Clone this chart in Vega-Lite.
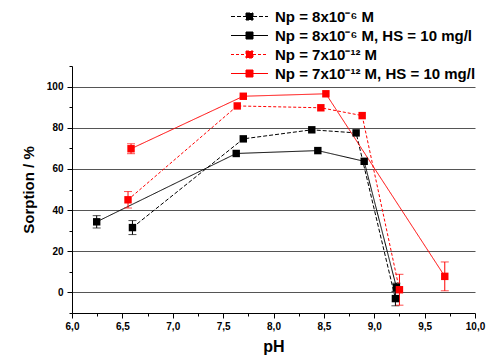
{
  "$schema": "https://vega.github.io/schema/vega-lite/v6.json",
  "width": 403,
  "height": 247,
  "autosize": {"type": "none"},
  "padding": {"left": 72, "top": 66, "right": 13, "bottom": 47},
  "background": "white",
  "config": {
    "view": {"stroke": null},
    "font": "Liberation Sans",
    "axis": {"labelFont": "Liberation Sans", "titleFont": "Liberation Sans", "labelFontWeight": "bold", "titleFontWeight": "bold", "labelColor": "#000", "titleColor": "#000", "domainColor": "#000", "tickColor": "#000", "domainWidth": 1, "tickWidth": 1}
  },
  "data": {
    "values": [
      {"series": "Np = 8x10⁻⁶ M", "pH": 6.60, "sorption": 31.5, "err": 3.4},
      {"series": "Np = 8x10⁻⁶ M", "pH": 7.70, "sorption": 74.6, "err": null},
      {"series": "Np = 8x10⁻⁶ M", "pH": 8.38, "sorption": 79.0, "err": null},
      {"series": "Np = 8x10⁻⁶ M", "pH": 8.82, "sorption": 77.5, "err": null},
      {"series": "Np = 8x10⁻⁶ M", "pH": 9.21, "sorption": -3.0, "err": 3.5},
      {"series": "Np = 8x10⁻⁶ M, HS = 10 mg/l", "pH": 6.245, "sorption": 34.3, "err": 3.0},
      {"series": "Np = 8x10⁻⁶ M, HS = 10 mg/l", "pH": 7.63, "sorption": 67.5, "err": null},
      {"series": "Np = 8x10⁻⁶ M, HS = 10 mg/l", "pH": 8.44, "sorption": 68.9, "err": null},
      {"series": "Np = 8x10⁻⁶ M, HS = 10 mg/l", "pH": 8.90, "sorption": 63.7, "err": null},
      {"series": "Np = 8x10⁻⁶ M, HS = 10 mg/l", "pH": 9.22, "sorption": 2.5, "err": 2.0},
      {"series": "Np = 7x10⁻¹² M", "pH": 6.556, "sorption": 45.0, "err": 4.0},
      {"series": "Np = 7x10⁻¹² M", "pH": 7.64, "sorption": 90.6, "err": null},
      {"series": "Np = 7x10⁻¹² M", "pH": 8.47, "sorption": 89.7, "err": null},
      {"series": "Np = 7x10⁻¹² M", "pH": 8.88, "sorption": 85.9, "err": null},
      {"series": "Np = 7x10⁻¹² M", "pH": 9.25, "sorption": 1.3, "err": 7.5},
      {"series": "Np = 7x10⁻¹² M, HS = 10 mg/l", "pH": 6.586, "sorption": 69.8, "err": 2.4},
      {"series": "Np = 7x10⁻¹² M, HS = 10 mg/l", "pH": 7.70, "sorption": 95.3, "err": null},
      {"series": "Np = 7x10⁻¹² M, HS = 10 mg/l", "pH": 8.52, "sorption": 96.5, "err": null},
      {"series": "Np = 7x10⁻¹² M, HS = 10 mg/l", "pH": 9.70, "sorption": 7.8, "err": 7.0}
    ]
  },
  "encoding": {
    "x": {
      "field": "pH", "type": "quantitative",
      "scale": {"domain": [6, 10], "nice": false, "zero": false},
      "axis": {
        "title": "pH", "titleFontSize": 16, "titlePadding": 7,
        "values": [6, 6.25, 6.5, 6.75, 7, 7.25, 7.5, 7.75, 8, 8.25, 8.5, 8.75, 9, 9.25, 9.5, 9.75, 10],
        "labelExpr": "(datum.value * 2) % 1 == 0 ? replace(format(datum.value, '.1f'), '.', ',') : ''",
        "tickSize": {"condition": {"test": "(datum.value * 2) % 1 == 0", "value": 5}, "value": 3},
        "labelFontSize": 10, "labelPadding": 3, "grid": false, "labelFlush": false
      }
    },
    "y": {
      "field": "sorption", "type": "quantitative",
      "scale": {"domain": [-10, 110], "nice": false, "zero": false},
      "axis": {
        "title": "Sorption / %", "titleFontSize": 15, "titlePadding": 10,
        "values": [-10, 0, 10, 20, 30, 40, 50, 60, 70, 80, 90, 100, 110],
        "labelExpr": "(datum.value % 20 == 0 && datum.value >= 0 && datum.value <= 100) ? format(datum.value, 'd') : ''",
        "tickSize": {"condition": {"test": "datum.value % 20 == 0 && datum.value >= 0 && datum.value <= 100", "value": 5}, "value": 3},
        "grid": true,
        "gridColor": "#555",
        "gridWidth": 1,
        "gridOpacity": {"condition": {"test": "datum.value % 20 == 0 && datum.value >= 0 && datum.value <= 100", "value": 1}, "value": 0},
        "labelFontSize": 10, "labelPadding": 4, "labelFlush": false
      }
    }
  },
  "layer": [
    {
      "mark": {"type": "line", "strokeWidth": 1},
      "encoding": {
        "color": {
          "field": "series", "type": "nominal",
          "scale": {"domain": ["Np = 8x10⁻⁶ M", "Np = 8x10⁻⁶ M, HS = 10 mg/l", "Np = 7x10⁻¹² M", "Np = 7x10⁻¹² M, HS = 10 mg/l"], "range": ["#000000", "#000000", "#ff0000", "#ff0000"]},
          "legend": {
            "title": null, "orient": "none", "legendX": 170, "legendY": -57, "padding": 0,
            "symbolType": "M-3.7,0L-0.7,0M0.7,0L3.7,0M-0.7,-0.7L0.7,-0.7L0.7,0.7L-0.7,0.7Z",
            "symbolSize": 100, "symbolStrokeWidth": 1,
            "labelFont": "Liberation Sans", "labelFontWeight": "bold", "labelFontSize": 15, "labelColor": "#000",
            "labelOffset": 18, "rowPadding": 3, "labelLimit": 0,
            "encode": {"symbols": {"update": {"fill": {"scale": "color", "field": "value"}, "fillOpacity": {"value": 1}}}}
          }
        },
        "strokeDash": {
          "field": "series", "type": "nominal",
          "scale": {"domain": ["Np = 8x10⁻⁶ M", "Np = 8x10⁻⁶ M, HS = 10 mg/l", "Np = 7x10⁻¹² M", "Np = 7x10⁻¹² M, HS = 10 mg/l"], "range": [[4, 2], [1, 0], [3, 2], [1, 0]]},
          "legend": {
            "title": null, "orient": "none", "legendX": 170, "legendY": -57, "padding": 0,
            "symbolType": "M-3.7,0L-0.7,0M0.7,0L3.7,0M-0.7,-0.7L0.7,-0.7L0.7,0.7L-0.7,0.7Z",
            "symbolSize": 100, "symbolStrokeWidth": 1,
            "labelFont": "Liberation Sans", "labelFontWeight": "bold", "labelFontSize": 15, "labelColor": "#000",
            "labelOffset": 18, "rowPadding": 3, "labelLimit": 0,
            "encode": {"symbols": {"update": {"fill": {"scale": "color", "field": "value"}, "fillOpacity": {"value": 1}}}}
          }
        }
      }
    },
    {
      "transform": [{"filter": "isValid(datum.err)"}],
      "mark": {"type": "errorbar", "ticks": {"size": 8}, "thickness": 1},
      "encoding": {
        "yError": {"field": "err"},
        "color": {"field": "series", "type": "nominal", "legend": null}
      }
    },
    {
      "mark": {"type": "point", "shape": "square", "filled": true, "size": 55, "opacity": 1},
      "encoding": {
        "color": {"field": "series", "type": "nominal", "legend": null}
      }
    }
  ]
}
